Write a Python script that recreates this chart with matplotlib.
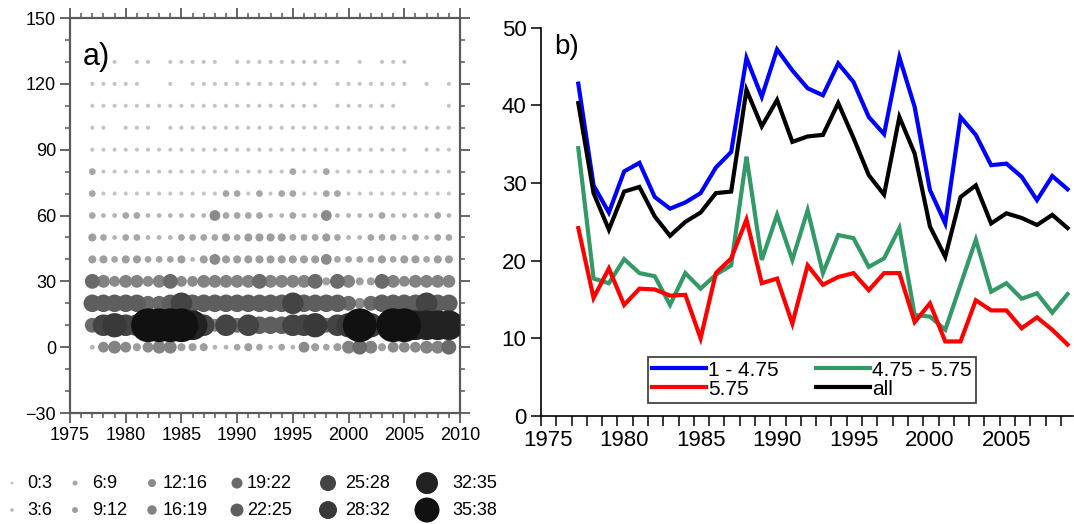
import numpy as np
import matplotlib
matplotlib.use('Agg')
import matplotlib.pyplot as plt
from matplotlib.ticker import MultipleLocator, FixedLocator

plt.rcParams['font.family'] = ['Liberation Sans', 'DejaVu Sans']

#================================ data ================================
years = np.arange(1977, 2010)

# counts per level (a), one value per year, 0 = nothing recorded
n_130 = [0,0,2,0,2,2,0,2,2,2,2,2,0,2,2,2,2,2,2,2,2,2,2,0,2,0,2,2,2,0,0,0,0]
n_120 = [2,2,2,2,2,0,0,2,0,2,2,2,2,2,2,2,2,2,2,2,2,0,2,2,2,2,2,2,2,0,2,0,2]
n_110 = [2,2,2,2,2,2,2,2,2,2,2,2,2,2,2,2,2,2,2,2,2,0,2,2,2,2,2,2,0,0,0,0,2]
n_100 = [2,2,0,2,2,2,0,2,2,2,2,2,2,2,2,2,2,2,2,2,2,2,2,2,2,2,2,2,2,2,2,2,2]
n_090 = [2,2,2,2,2,2,2,2,2,2,2,2,2,2,2,2,2,2,2,2,2,2,2,2,2,2,2,2,2,0,2,2,2]
n_080 = [7,2,2,2,2,2,2,2,2,2,2,2,2,2,2,2,2,2,7,2,2,7,2,2,2,2,2,2,2,2,2,2,2]
n_070 = [7,2,2,2,2,2,2,2,2,2,2,2,7,7,2,7,2,7,7,2,2,7,7,2,2,2,2,2,2,2,2,2,2]
n_060 = [7,4,4,7,7,4,4,4,4,4,4,14,7,7,7,7,5,4,7,4,4,14,4,4,4,4,7,4,4,4,4,7,4]
n_050 = [11,7,4,7,7,4,4,4,7,7,7,7,11,7,11,11,11,10,7,7,7,10,7,4,4,7,7,7,4,7,4,7,7]
n_040 = [10,11,7,11,11,7,7,7,10,5,10,14,10,10,10,11,10,10,10,10,10,14,7,7,7,7,11,7,11,11,7,11,11]
n_030 = [20,18,14,18,18,14,18,21,14,14,18,18,18,18,17,21,18,18,17,17,20,11,20,17,10,11,21,18,14,18,18,18,18]
n_020 = [23,23,23,23,23,21,21,23,26,23,23,23,23,23,23,23,23,23,26,23,23,23,23,21,14,21,23,23,23,23,26,23,23]
n_010 = [21,27,31,27,26,36,36,36,36,33,26,18,26,21,26,24,24,23,26,27,30,21,26,30,37,28,21,36,36,33,33,33,33]
n_000 = [4,14,17,14,10,14,18,18,11,11,11,5,5,7,11,7,5,7,5,14,11,7,11,18,21,18,11,14,14,14,17,17,20]

levels = [0, 10, 20, 30, 40, 50, 60, 70, 80, 90, 100, 110, 120, 130]
level_counts = [n_000, n_010, n_020, n_030, n_040, n_050, n_060,
                n_070, n_080, n_090, n_100, n_110, n_120, n_130]

# count classes used for the dot sizes
class_edges = [0, 3, 6, 9, 12, 16, 19, 22, 25, 28, 32, 35, 38]
class_labels = ['0:3', '3:6', '6:9', '9:12', '12:16', '16:19',
                '19:22', '22:25', '25:28', '28:32', '32:35', '35:38']
class_diam = [3, 3.5, 5, 6, 8, 9.5, 11, 13, 16, 18, 22, 25]   # pixels
class_gray = ['#c4c4c4', '#b4b4b4', '#a6a6a6', '#9e9e9e', '#8a8a8a', '#828282',
              '#6a6a6a', '#5e5e5e', '#444444', '#393939', '#222222', '#111111']

# series for (b)
s_small = [42.8,29.7,26.2,31.5,32.6,28.2,26.7,27.5,28.7,32.0,34.0,46.1,41.1,47.2,44.5,42.2,41.3,
           45.4,43.0,38.5,36.3,46.2,39.8,29.1,24.8,38.5,36.2,32.3,32.5,30.8,27.8,30.9,29.2]
s_mid   = [34.5,17.7,17.1,20.2,18.4,18.0,14.3,18.4,16.4,18.2,19.4,33.4,20.1,25.9,20.1,26.5,18.4,
           23.3,22.9,19.2,20.3,24.2,13.0,12.8,11.1,16.9,22.7,16.0,17.1,15.1,15.8,13.3,15.7]
s_large = [24.2,15.2,19.0,14.3,16.4,16.3,15.5,15.6,10.0,18.4,20.3,25.3,17.1,17.7,11.9,19.4,16.9,
           17.9,18.4,16.2,18.4,18.4,12.1,14.5,9.6,9.6,14.9,13.6,13.6,11.3,12.7,11.1,9.2]
s_all   = [40.3,28.7,24.0,28.9,29.5,25.7,23.2,25.0,26.2,28.7,28.9,42.0,37.3,40.7,35.3,36.0,36.2,
           40.3,35.8,31.0,28.5,38.5,33.8,24.4,20.5,28.2,29.7,24.8,26.1,25.5,24.6,25.9,24.2]

#================================ figure ================================
fig = plt.figure(figsize=(10.74, 5.24), dpi=100)

def px2pt(d):
    return d * 72.0 / fig.dpi

#----------------------- (a) dot chart -----------------------
ax1 = fig.add_axes([0.0652, 0.2118, 0.3631, 0.7538])

xs, ys, vs = [], [], []
for lev, row in zip(levels, level_counts):
    for yr, v in zip(years, row):
        if v > 0:
            xs.append(yr); ys.append(lev); vs.append(v)
xs, ys, vs = np.array(xs), np.array(ys), np.array(vs)
cls = np.clip(np.searchsorted(class_edges, vs, side='right') - 1, 0, len(class_labels) - 1)
order = np.argsort(vs, kind='stable')
# dots in the panel are drawn larger than in the key
sizes = np.array([px2pt(class_diam[c] * 1.35) ** 2 for c in cls])
colors = np.array([class_gray[c] for c in cls])
ax1.scatter(xs[order], ys[order], s=sizes[order], c=colors[order], edgecolors='none', zorder=3)

ax1.set_xlim(1975, 2010)
ax1.set_ylim(-30, 150)
ax1.xaxis.set_major_locator(MultipleLocator(5))
ax1.xaxis.set_minor_locator(MultipleLocator(1))
ax1.yaxis.set_major_locator(MultipleLocator(30))
ax1.yaxis.set_minor_locator(MultipleLocator(10))
spine_c = '#5a5a5a'
for sp in ax1.spines.values():
    sp.set_color(spine_c)
    sp.set_linewidth(1.6)
ax1.tick_params(which='both', direction='out', top=True, right=True, color=spine_c,
                labelsize=13, pad=3)
ax1.tick_params(which='major', length=7, width=1.3)
ax1.tick_params(which='minor', length=3.5, width=1.1)
ax1.text(0.033, 0.94, 'a)', transform=ax1.transAxes, fontsize=22, va='top', ha='left')

# size key below (a)
kax = fig.add_axes([0, 0, 0.5, 0.12])
kax.set_xlim(0, 537)
kax.set_ylim(0, 63)
kax.axis('off')
key_x = [12, 75, 152, 237, 328, 427]
key_text_x = [27, 92, 163, 247, 345, 452]
key_y = [41, 14]
for i, lab in enumerate(class_labels):
    col, row = divmod(i, 2)
    kax.scatter(key_x[col], key_y[row], s=px2pt(class_diam[i]) ** 2, c=class_gray[i],
                edgecolors='none')
    kax.text(key_text_x[col], key_y[row], lab, fontsize=13, va='center', ha='left')

#----------------------- (b) line chart -----------------------
ax2 = fig.add_axes([0.5037, 0.2061, 0.4953, 0.741])
ax2.plot(years, s_small, color='#0000ff', lw=3, label='1 - 4.75', solid_joinstyle='miter')
ax2.plot(years, s_mid, color='#339966', lw=3, label='4.75 - 5.75', solid_joinstyle='miter')
ax2.plot(years, s_large, color='#ff0000', lw=3, label='5.75', solid_joinstyle='miter')
ax2.plot(years, s_all, color='black', lw=3, label='all', solid_joinstyle='miter')

ax2.set_xlim(1974.56, 2009.35)
ax2.set_ylim(0, 50)
ax2.spines['top'].set_visible(False)
ax2.spines['right'].set_visible(False)
for sp in ('left', 'bottom'):
    ax2.spines[sp].set_linewidth(1.2)
ax2.xaxis.set_major_locator(FixedLocator(np.arange(1975, 2010, 5)))
ax2.xaxis.set_minor_locator(FixedLocator(np.arange(1974.56, 2010, 1.0)))
ax2.yaxis.set_major_locator(MultipleLocator(10))
ax2.tick_params(axis='x', which='major', length=0, pad=10, labelsize=16)
ax2.tick_params(axis='x', which='minor', length=7, width=1.1)
ax2.tick_params(axis='y', which='major', length=7, width=1.1, labelsize=16)
ax2.text(0.025, 0.985, 'b)', transform=ax2.transAxes, fontsize=20, va='top', ha='left')

h, l = ax2.get_legend_handles_labels()
leg_order = [0, 2, 1, 3]
leg = ax2.legend([h[i] for i in leg_order], [l[i] for i in leg_order], ncol=2,
                 loc='lower left', bbox_to_anchor=(0.603, 0.231),
                 bbox_transform=fig.transFigure, fontsize=15, frameon=True,
                 fancybox=False, handlelength=2.6, handletextpad=0.1,
                 columnspacing=1.8, labelspacing=0.0, borderpad=0.2,
                 borderaxespad=0)
leg.get_frame().set_edgecolor('black')
leg.get_frame().set_linewidth(1.2)

fig.savefig('out.png', dpi=100)
